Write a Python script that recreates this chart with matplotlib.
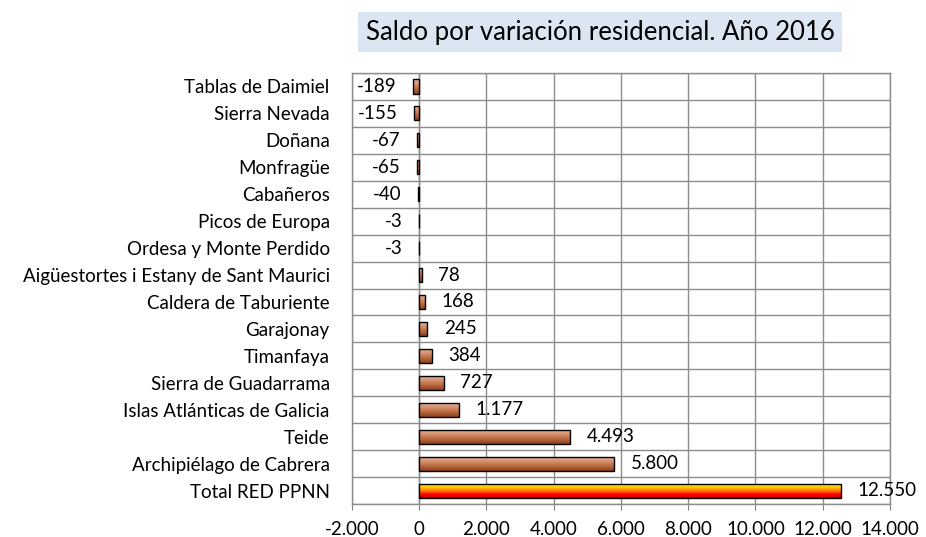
import matplotlib.pyplot as plt
import numpy as np
from matplotlib.colors import LinearSegmentedColormap

plt.rcParams['font.family'] = ['Lato', 'DejaVu Sans']

categorias = ["Tablas de Daimiel", "Sierra Nevada", "Doñana", "Monfragüe", "Cabañeros",
              "Picos de Europa", "Ordesa y Monte Perdido",
              "Aigüestortes i Estany de Sant Maurici", "Caldera de Taburiente",
              "Garajonay", "Timanfaya", "Sierra de Guadarrama",
              "Islas Atlánticas de Galicia", "Teide", "Archipiélago de Cabrera",
              "Total RED PPNN"]
saldo = [-189, -155, -67, -65, -40, -3, -3, 78, 168, 245, 384, 727, 1177, 4493, 5800, 12550]
ticks_x = [-2000, 0, 2000, 4000, 6000, 8000, 10000, 12000, 14000]


def fmt(v):
    return f"{v:,}".replace(",", ".")


# degradados: claro arriba, oscuro abajo
marron = LinearSegmentedColormap.from_list("marron", ["#e6b49a", "#d89472", "#b8683e", "#8a3e1c"])
fuego = LinearSegmentedColormap.from_list("fuego", ["#ffff00", "#ffd000", "#ff8000", "#ff0000", "#c00000"])

fig = plt.figure(figsize=(9.26, 5.37), dpi=100)
ax = fig.add_axes([0.380, 0.0615, 0.581, 0.8025])

y = np.arange(len(categorias))
alto = 0.52
barras = ax.barh(y, saldo, height=alto, color='none', edgecolor='black', linewidth=1, zorder=3)

grad = np.linspace(0, 1, 256).reshape(-1, 1)
for i, (b, v) in enumerate(zip(barras, saldo)):
    cmap = fuego if i == len(saldo) - 1 else marron
    x0, x1 = sorted([0, v])
    im = ax.imshow(grad, cmap=cmap, aspect='auto', origin='upper',
                   extent=[x0, x1, i + alto / 2, i - alto / 2], zorder=2)
    im.set_clip_path(b)

fs = 13.5
for i, v in enumerate(saldo):
    if v < 0:
        ax.annotate(fmt(v), (v, i), xytext=(-12, 0), textcoords='offset points',
                    ha='right', va='center', fontsize=fs, zorder=4)
    else:
        ax.annotate(fmt(v), (v, i), xytext=(12, 0), textcoords='offset points',
                    ha='left', va='center', fontsize=fs, zorder=4)

ax.set_xlim(-2000, 14000)
ax.set_ylim(len(categorias) - 0.5, -0.5)
ax.set_xticks(ticks_x)
ax.set_xticklabels([fmt(t) for t in ticks_x], fontsize=fs)
ax.set_yticks(y)
ax.set_yticklabels(categorias, fontsize=fs)
ax.set_yticks(np.arange(len(categorias) + 1) - 0.5, minor=True)
ax.tick_params(axis='y', which='both', length=0, pad=16)
ax.tick_params(axis='x', length=4, color='#808080', pad=8)

ax.grid(True, which='minor', axis='y', color='#8c8c8c', linewidth=1, zorder=0)
ax.grid(True, which='major', axis='x', color='#8c8c8c', linewidth=1, zorder=0)
ax.axvline(0, color='#808080', linewidth=1, zorder=1)
for s in ax.spines.values():
    s.set_color('#8c8c8c')
    s.set_linewidth(1)

fig.text(0.648, 0.94, "Saldo por variación residencial. Año 2016", fontsize=18.5,
         ha='center', va='center',
         bbox=dict(facecolor='#dce6f2', edgecolor='none', boxstyle='square,pad=0.3'))

fig.savefig("out.png", dpi=100)
